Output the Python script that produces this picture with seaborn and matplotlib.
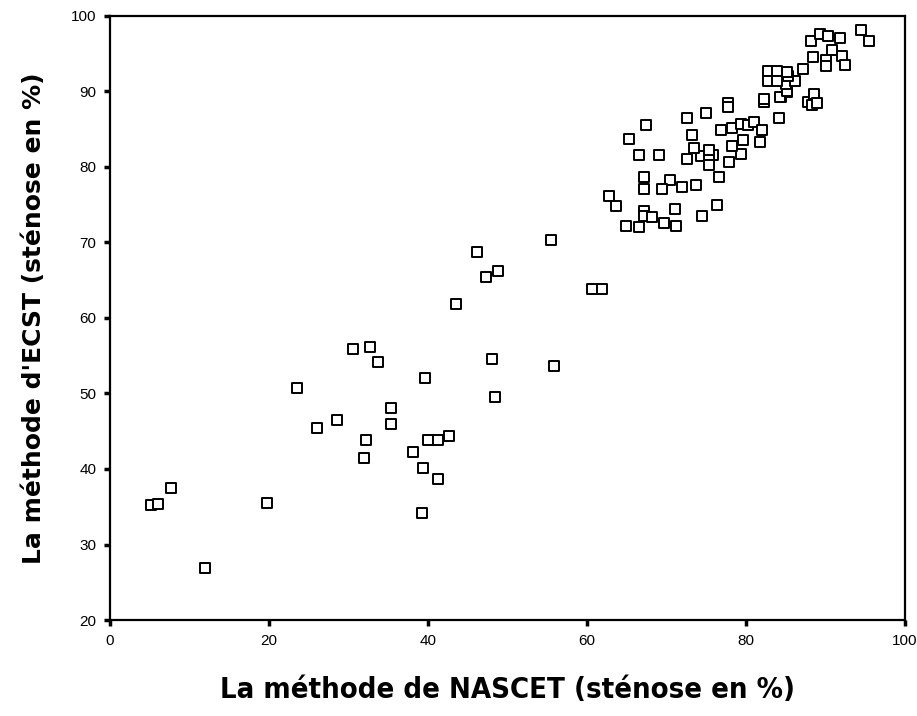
import matplotlib
matplotlib.use("Agg")
import matplotlib.pyplot as plt
import seaborn as sns
import pandas as pd

# NASCET (x) vs ECST (y), stenosis in %
nascet = [5.1, 6.0, 7.7, 11.9, 19.7, 23.5, 26.0, 28.5, 30.6, 32.7, 33.7, 32.2, 31.9,
          35.3, 35.3, 39.6, 38.1, 39.4, 41.3, 39.2, 40.0, 41.3, 42.6, 43.5, 46.1,
          47.3, 48.8, 48.1, 48.4, 55.5, 55.8, 60.6, 61.9,
          62.8, 63.6, 64.9, 66.5, 69.7, 71.2, 67.1, 67.1, 68.2, 71.0, 76.3, 74.5,
          67.1, 67.1, 70.4, 69.4, 72.0, 73.7, 76.6,
          66.5, 69.1, 72.6, 74.3, 75.8, 75.3, 75.4, 77.9, 79.4, 73.5, 75.3, 78.2,
          65.3, 67.4, 73.2, 76.8, 78.2, 79.3, 79.6, 72.6, 75.0, 77.7, 77.7,
          80.3, 81.0, 82.0, 81.8, 84.1, 82.3, 84.4, 85.2, 87.8, 88.3, 88.6, 88.9,
          82.3, 84.3, 85.2, 85.0, 86.2, 85.3, 85.1, 82.8, 83.9, 82.8, 83.9, 87.2,
          88.4, 90.0, 90.8, 92.1, 90.0, 92.4, 88.2, 89.3, 90.3, 91.8, 94.4, 95.5]
ecst = [35.2, 35.4, 37.5, 26.9, 35.5, 50.7, 45.4, 46.5, 55.9, 56.1, 54.2, 43.8, 41.4,
        48.1, 46.0, 52.1, 42.2, 40.1, 38.7, 34.2, 43.8, 43.8, 44.4, 61.8, 68.7,
        65.4, 66.2, 54.6, 49.5, 70.3, 53.6, 63.8, 63.8,
        76.2, 74.8, 72.2, 72.0, 72.5, 72.2, 74.1, 73.5, 73.3, 74.4, 75.0, 73.5,
        78.6, 77.0, 78.2, 77.0, 77.3, 77.6, 78.7,
        81.6, 81.6, 81.1, 81.4, 81.5, 80.9, 80.2, 80.6, 81.7, 82.5, 82.2, 82.8,
        83.7, 85.6, 84.2, 84.9, 85.1, 85.7, 83.6, 86.4, 87.1, 88.4, 87.9,
        85.6, 85.9, 84.9, 83.3, 86.5, 88.6, 89.2, 89.9, 88.6, 88.2, 89.6, 88.4,
        89.0, 89.3, 90.1, 91.0, 91.4, 92.0, 92.6, 92.7, 92.7, 91.4, 91.4, 93.0,
        94.6, 94.2, 95.5, 94.7, 93.3, 93.5, 96.7, 97.6, 97.3, 97.0, 98.1, 96.7]

x_ticks = [0, 20, 40, 60, 80, 100]
y_ticks = [20, 30, 40, 50, 60, 70, 80, 90, 100]

df = pd.DataFrame({"NASCET": nascet, "ECST": ecst})

sns.set_style("white")
plt.rcParams["font.family"] = ["Liberation Sans", "DejaVu Sans"]
plt.rcParams["text.color"] = "black"
plt.rcParams["axes.labelcolor"] = "black"
plt.rcParams["xtick.color"] = "black"
plt.rcParams["ytick.color"] = "black"

fig = plt.figure(figsize=(9.17, 7.16), dpi=100)
ax = fig.add_axes([0.12, 0.134, 0.867, 0.844])

sns.scatterplot(data=df, x="NASCET", y="ECST", ax=ax, marker="s", s=46,
                facecolor="white", edgecolor="black", linewidth=1.4, zorder=3)

ax.set_xlim(0, 100)
ax.set_ylim(20, 100)
ax.set_xticks(x_ticks)
ax.set_yticks(y_ticks)
ax.set_xticklabels([str(t) for t in x_ticks], fontsize=11, color="black")
ax.set_yticklabels([str(t) for t in y_ticks], fontsize=11, color="black")
for sp in ax.spines.values():
    sp.set_visible(True)
    sp.set_color("black")
    sp.set_linewidth(1.6)
ax.tick_params(axis="both", which="both", direction="out", length=4, width=2.5,
               color="black", labelcolor="black", pad=6,
               left=True, bottom=True, top=False, right=False)

ax.set_xlabel("La méthode de NASCET (sténose en %)", fontsize=21, color="black",
              fontweight="bold", family=["DejaVu Sans"], fontstretch="condensed",
              labelpad=20)
ax.set_ylabel("La méthode d'ECST (sténose en %)", fontsize=18, fontweight="bold",
              color="black", family=["DejaVu Sans"], labelpad=18)

fig.savefig("out.png", dpi=100)
